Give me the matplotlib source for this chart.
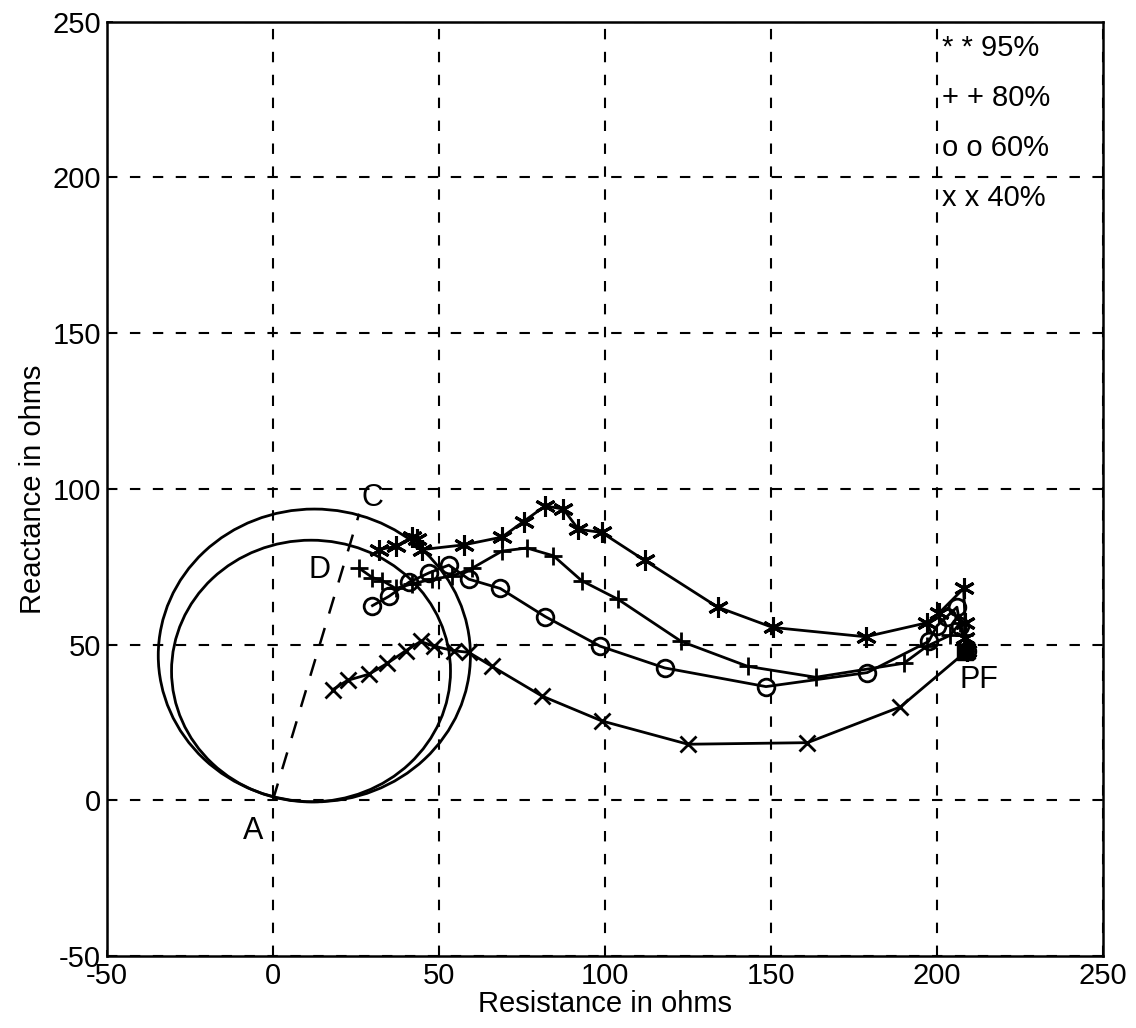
import matplotlib
matplotlib.use("Agg")
import matplotlib.pyplot as plt
from matplotlib.patches import Circle

plt.rcParams['font.family'] = ['Liberation Sans', 'DejaVu Sans']
plt.rcParams['axes.unicode_minus'] = False

# impedance trajectories (R, X) in ohms
r95 = [32, 37, 42, 43.5, 45, 57.5, 69, 75.5, 82, 87.5, 92, 99, 112, 134, 150.5, 178.5, 197, 200.5, 208, 208.5, 208.5, 209]
x95 = [80.5, 81.5, 84.5, 84, 80.5, 82, 84.5, 89.5, 94.5, 93.5, 87, 86, 77, 62, 55.5, 52.5, 57, 60, 68, 57, 52, 48]

r80 = [26, 30, 33, 37, 42, 48, 54, 60, 69, 76.5, 84.5, 93, 104, 123, 143, 163.5, 190, 197, 204, 207, 208, 209]
x80 = [74.5, 71.5, 70.5, 68, 69.5, 71, 72, 74.5, 80, 81, 78.5, 70.5, 64.5, 51, 43, 39.5, 44, 49.5, 53, 57, 53, 48]

r60 = [30, 35, 41, 47, 53, 59, 68.5, 82, 98.5, 118, 148.5, 179, 197.5, 200, 203, 206, 207, 209]
x60 = [62.5, 65.5, 70, 73, 75.5, 71, 68, 59, 49.5, 42.5, 36.5, 41, 51, 56, 59, 62, 56, 48]

r40 = [18, 22.5, 29, 34.5, 40, 44.5, 48.5, 54.5, 59, 66, 81, 99, 125, 161, 189, 209]
x40 = [35.5, 38.5, 40.5, 44, 48, 51, 49.5, 48, 47.5, 43, 33.5, 25.5, 18, 18.5, 30, 48]

# relay characteristic circles: centre R, centre X, radius
mho_r = [12.5, 11.5]
mho_x = [46.5, 41.5]
mho_rad = [47, 42]

line_ac_r = [0, 26]
line_ac_x = [0, 92]

pf_point = (208.5, 47.5)

legend_lines = ["* * 95%", "+ + 80%", "o o 60%", "x x 40%"]
legend_y = [241.5, 225.5, 209.5, 193.5]

fig = plt.figure(figsize=(11.36, 10.28), dpi=100)
ax = fig.add_axes([0.094, 0.07, 0.877, 0.909])

ax.set_xlim(-50, 250)
ax.set_ylim(-50, 250)
ax.set_xticks(range(-50, 251, 50))
ax.set_yticks(range(-50, 251, 50))
ax.grid(True, color='black', linestyle=(0, (5, 6)), linewidth=1.5)
ax.tick_params(direction='in', length=4, labelsize=21, width=1.2, pad=4)
for s in ax.spines.values():
    s.set_linewidth(1.8)

for cx, cy, rad in zip(mho_r, mho_x, mho_rad):
    ax.add_patch(Circle((cx, cy), rad, fill=False, color='black', lw=2))

ax.plot(line_ac_r, line_ac_x, color='black', lw=1.8, linestyle=(0, (7, 6)))

kw = dict(color='black', lw=2, mfc='none', mec='black')
ax.plot(r95, x95, marker=(6, 2, 0), ms=15, mew=2.2, **kw)
ax.plot(r80, x80, marker='+', ms=13, mew=2, **kw)
ax.plot(r60, x60, marker='o', ms=12, mew=2, **kw)
ax.plot(r40, x40, marker='x', ms=12, mew=2, **kw)
ax.plot([pf_point[0]], [pf_point[1]], marker='s', ms=12, color='black')

ax.text(30, 97, "C", fontsize=22, ha='center', va='center')
ax.text(14, 74, "D", fontsize=22, ha='center', va='center')
ax.text(-6, -10, "A", fontsize=22, ha='center', va='center')
ax.text(212.5, 38.5, "PF", fontsize=22, ha='center', va='center')

for txt, yy in zip(legend_lines, legend_y):
    ax.text(201.5, yy, txt, fontsize=21, ha='left', va='center')

ax.set_xlabel("Resistance in ohms", fontsize=21, labelpad=0)
ax.set_ylabel("Reactance in ohms", fontsize=21, labelpad=4)

fig.savefig("out.png", dpi=100)
